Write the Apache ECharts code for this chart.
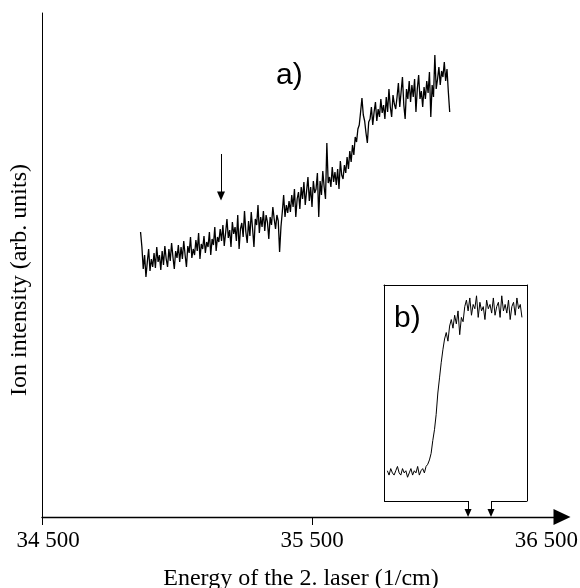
<!DOCTYPE html>
<html>
<head>
<meta charset="utf-8">
<script src="https://cdn.jsdelivr.net/npm/echarts@6/dist/echarts.min.js"></script>
<style>
html, body { margin: 0; padding: 0; background: #fff; }
#main { width: 580px; height: 588px; }
</style>
</head>
<body>
<div id="main"></div>
<script>
// main spectrum a), one value every 5 1/cm
var energyStart = 34865;
var energyStep = 5;
var intensity = [
  285, 270, 248, 262, 240, 255, 268, 246, 258, 250,
  264, 249, 270, 255, 262, 247, 266, 252, 271, 258,
  250, 268, 256, 274, 260, 248, 266, 259, 272, 255,
  270, 258, 276, 262, 250, 271, 264, 280, 259, 268,
  262, 277, 266, 284, 258, 273, 268, 281, 264, 275,
  270, 285, 262, 278, 272, 290, 266, 280, 275, 288,
  276, 292, 271, 284, 298, 279, 287, 270, 295, 283,
  290, 276, 302, 268, 288, 294, 280, 306, 285, 274,
  296, 281, 305, 288, 270, 298, 292, 312, 284, 300,
  290, 306, 286, 302, 295, 278, 300, 292, 310, 298,
  288, 302, 296, 265, 290, 305, 322, 300, 312, 304,
  316, 305, 322, 310, 328, 300, 318, 325, 308, 330,
  318, 335, 312, 326, 340, 316, 330, 310, 336, 324,
  328, 344, 300, 336, 322, 346, 330, 318, 374, 334,
  340, 330, 350, 335, 345, 332, 348, 328, 356, 342,
  338, 352, 344, 360, 348, 366, 355, 372, 362, 380,
  375, 388, 392, 405, 419, 402, 396, 384, 374, 395,
  398, 410, 392, 405, 415, 396, 408, 400, 418, 404,
  412, 398, 420, 405, 428, 410, 400, 422, 413, 408,
  420, 434, 410, 425, 440, 412, 398, 428, 418, 436,
  415, 432, 420, 438, 405, 428, 442, 418, 426, 410,
  430, 418, 436, 424, 445, 400, 432, 420, 462, 428,
  438, 450, 432, 446, 440, 455, 436, 448, 425, 405
];

// inset b), one value every 1 1/cm
var insetStart = 36080;
var insetStep = 1;
var insetIntensity = [
  14, 12, 15, 13, 12, 14, 16, 13, 12, 15, 13, 14,
  11, 13, 15, 12, 14, 13, 16, 12, 14, 15, 13, 16,
  17, 19, 22, 28, 33, 40, 50, 57, 64, 70, 75, 78,
  74, 81, 84, 80, 86, 82, 88, 77, 85, 83, 90, 93,
  88, 94, 86, 91, 89, 95, 85, 92, 88, 90, 84, 93, 89,
  91, 87, 94, 86, 90, 92, 85, 95, 88, 91, 87, 93,
  84, 90, 92, 86, 94, 89, 91, 85
];

var xTicks = [34500, 35500, 36500];
var insetRange = [36078, 36163];   // energies marked by the two small arrows
var insetBox = [35767, 36296];      // inset frame left/right on the main axis
var insetBoxY = 16;                 // inset frame bottom on the main y scale
var arrowEnergy = 35163;
var arrowY = [363, 321];

var mainData = intensity.map(function (v, i) {
  return [energyStart + i * energyStep, v];
});
var insetData = insetIntensity.map(function (v, i) {
  return [insetStart + i * insetStep, v];
});

var serif = 'Liberation Serif';
var nameStyle = { fontFamily: serif, fontSize: 24, color: '#000' };
var tagStyle = { fontFamily: 'Liberation Sans', fontSize: 30, fontWeight: 'normal', color: '#000' };
var tickFont = { fontFamily: serif, fontSize: 23, color: '#000' };

var chart = echarts.init(document.getElementById('main'), null, { renderer: 'canvas' });

var option = {
  animation: false,
  backgroundColor: '#fff',
  title: [
    { text: 'a)', left: 276, top: 61, padding: 0, textStyle: tagStyle },
    { text: 'b)', left: 394, top: 304, padding: 0, textStyle: tagStyle }
  ],
  grid: [
    { left: 42, top: 13, width: 540, height: 504, outerBoundsMode: 'none' },
    { left: 42, top: 13, width: 520, height: 504, outerBoundsMode: 'none' },
    { left: 384, top: 285, width: 143, height: 216, outerBoundsMode: 'none' }
  ],
  xAxis: [
    {
      gridIndex: 0, type: 'value', min: xTicks[0], max: xTicks[xTicks.length - 1], interval: 1000,
      axisLine: { show: false },
      axisTick: { show: true, length: 8, lineStyle: { color: '#000' } },
      axisLabel: {
        margin: 12, fontFamily: serif, fontSize: 23, color: '#000', alignMaxLabel: 'right',
        formatter: function (v) {
          var s = String(v).replace(/(\d+)(\d{3})$/, '$1 $2');
          if (v === xTicks[0]) return '{first|' + s + '}';
          if (v === xTicks[xTicks.length - 1]) return '{last|' + s + '}';
          return s;
        },
        rich: {
          first: Object.assign({ padding: [0, 0, 0, 12] }, tickFont),
          last: Object.assign({ padding: [0, 4, 0, 0] }, tickFont)
        }
      },
      splitLine: { show: false },
      name: 'Energy of the 2. laser (1/cm)', nameLocation: 'middle', nameGap: 50,
      nameTextStyle: Object.assign({ padding: [0, 22, 0, 0] }, nameStyle)
    },
    {
      gridIndex: 1, type: 'value', min: 0, max: 1,
      axisLine: { show: true, onZero: false, symbol: ['none', 'triangle'], symbolSize: [16, 17],
        lineStyle: { color: '#000', width: 1.4 } },
      axisTick: { show: false }, axisLabel: { show: false }, splitLine: { show: false }
    },
    {
      gridIndex: 2, type: 'value', min: insetRange[0], max: insetRange[1], position: 'top',
      axisLine: { show: true, onZero: false, lineStyle: { color: '#000' } },
      axisTick: { show: false }, axisLabel: { show: false }, splitLine: { show: false }
    }
  ],
  yAxis: [
    {
      gridIndex: 0, type: 'value', min: 0, max: 504,
      axisLine: { show: true, onZero: false, lineStyle: { color: '#000' } },
      axisTick: { show: false }, axisLabel: { show: false }, splitLine: { show: false },
      name: 'Ion intensity (arb. units)', nameLocation: 'middle', nameGap: 10,
      nameTextStyle: Object.assign({ padding: [0, 30, 0, 0] }, nameStyle)
    },
    { gridIndex: 1, type: 'value', min: 0, max: 1, show: false },
    {
      gridIndex: 2, type: 'value', min: 0, max: 100, position: 'left',
      axisLine: { show: true, onZero: false, lineStyle: { color: '#000' } },
      axisTick: { show: false }, axisLabel: { show: false }, splitLine: { show: false }
    },
    {
      gridIndex: 2, type: 'value', min: 0, max: 100, position: 'right',
      axisLine: { show: true, onZero: false, lineStyle: { color: '#000' } },
      axisTick: { show: false }, axisLabel: { show: false }, splitLine: { show: false }
    }
  ],
  series: [
    {
      type: 'line', xAxisIndex: 0, yAxisIndex: 0, data: mainData,
      showSymbol: false, lineStyle: { color: '#000', width: 1.3 },
      markLine: {
        silent: true, animation: false,
        label: { show: false },
        lineStyle: { color: '#000', width: 1, type: 'solid' },
        data: [
          [{ coord: [arrowEnergy, arrowY[0]], symbol: 'none' },
           { coord: [arrowEnergy, arrowY[1]], symbol: 'triangle', symbolSize: [8, 9] }],
          [{ coord: [insetBox[0], insetBoxY], symbol: 'none' },
           { coord: [insetRange[0], insetBoxY], symbol: 'none' }],
          [{ coord: [insetRange[0], insetBoxY], symbol: 'none' },
           { coord: [insetRange[0], 4], symbol: 'triangle', symbolSize: [7, 8] }],
          [{ coord: [insetRange[1], insetBoxY], symbol: 'none' },
           { coord: [insetBox[1], insetBoxY], symbol: 'none' }],
          [{ coord: [insetRange[1], insetBoxY], symbol: 'none' },
           { coord: [insetRange[1], 4], symbol: 'triangle', symbolSize: [7, 8] }]
        ]
      }
    },
    {
      type: 'line', xAxisIndex: 2, yAxisIndex: 2, data: insetData,
      showSymbol: false, lineStyle: { color: '#000', width: 1 }
    }
  ]
};

chart.setOption(option);
</script>
</body>
</html>
